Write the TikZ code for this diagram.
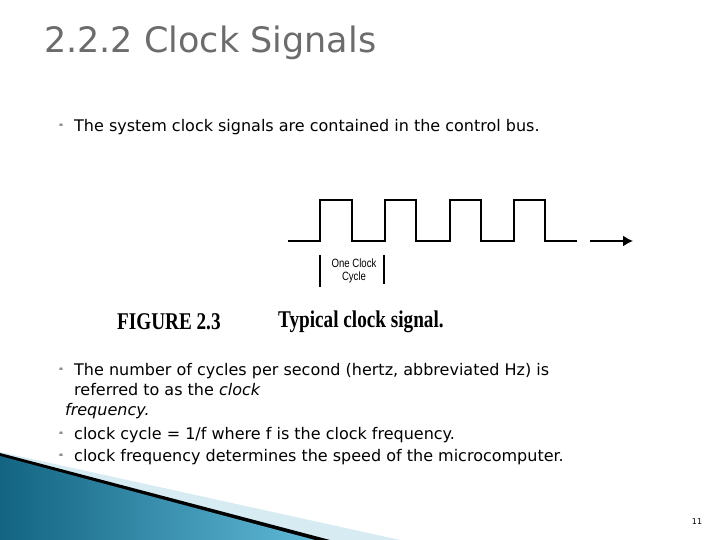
\documentclass[tikz,border=0pt]{standalone}
\usepackage{fontspec}
\usetikzlibrary{arrows.meta}
\setmainfont{DejaVu Sans}
\newfontfamily\capfont{Liberation Serif}
\newfontfamily\sigfont{Liberation Sans}
\definecolor{tealdark}{RGB}{18,100,130}
\definecolor{teallight}{RGB}{95,185,215}
\definecolor{paleband}{RGB}{215,235,242}
\tikzset{body/.style={anchor=west,font=\fontsize{16}{18}\selectfont,inner sep=0pt},
bul/.style={anchor=center,font=\fontsize{8}{8}\selectfont,text=gray!80!black,inner sep=0pt},
sig/.style={line width=1.6pt},
capt/.style={anchor=west,inner sep=0pt,font=\capfont\bfseries\fontsize{24}{26}\selectfont,xscale=0.8}}
\begin{document}
\begin{tikzpicture}[x=1pt,y=-1pt]
\useasboundingbox (0,0) rectangle (720,540);
\fill[white] (0,0) rectangle (720,540);
% decoration
\fill[paleband] (0,452) -- (400,540) -- (0,540) -- cycle;
\fill[black] (0,453) -- (330,540) -- (0,540) -- cycle;
\shade[left color=tealdark, right color=teallight] (0,456) -- (315,540) -- (0,540) -- cycle;
\node[anchor=west,font=\fontsize{35}{37}\selectfont,text=gray!85!black,inner sep=0pt] (title) at (44,43) {2.2.2 Clock Signals};
\node[bul] (b1) at (61,127) {❝};
\node[body] (t1) at (74,127) {The system clock signals are contained in the control bus.};
% clock
\draw[sig] (288,241) -- (320,241) -- (320,200) -- (352,200) -- (352,241) -- (385,241) -- (385,200) -- (416,200) -- (416,241) -- (450,241) -- (450,200) -- (481,200) -- (481,241) -- (514,241) -- (514,200) -- (545,200) -- (545,241) -- (577,241);
\coordinate (as) at (590,241); \coordinate (ae) at (633,241);
\draw[sig,-{Latex[length=10pt,width=11pt]}] (as) -- (ae);
\draw[line width=1.4pt] (320,255) -- (320,287);
\draw[line width=1.4pt] (384,255) -- (384,284);
\node[font=\sigfont\fontsize{12}{13}\selectfont,align=center,inner sep=0pt,xscale=0.8] (occ) at (354,271) {One Clock\\Cycle};
\node[capt] (fig) at (117,322) {FIGURE 2.3};
\node[capt] (cap) at (278,322) {Typical clock signal.};
\node[bul] (b2) at (61,371) {❝};
\node[body] (t2) at (74,371) {The number of cycles per second (hertz, abbreviated Hz) is};
\node[body] (t3) at (74,390) {referred to as the \textit{clock}};
\node[body] (t4) at (65,411) {\textit{frequency.}};
\node[bul] (b3) at (61,435) {❝};
\node[body] (t5) at (74,435) {clock cycle = 1/f where f is the clock frequency.};
\node[bul] (b4) at (61,457) {❝};
\node[body] (t6) at (74,457) {clock frequency determines the speed of the microcomputer.};
\node[font=\fontsize{8}{9}\selectfont,inner sep=0pt] (pg) at (697,522) {11};
\end{tikzpicture}
\end{document}
